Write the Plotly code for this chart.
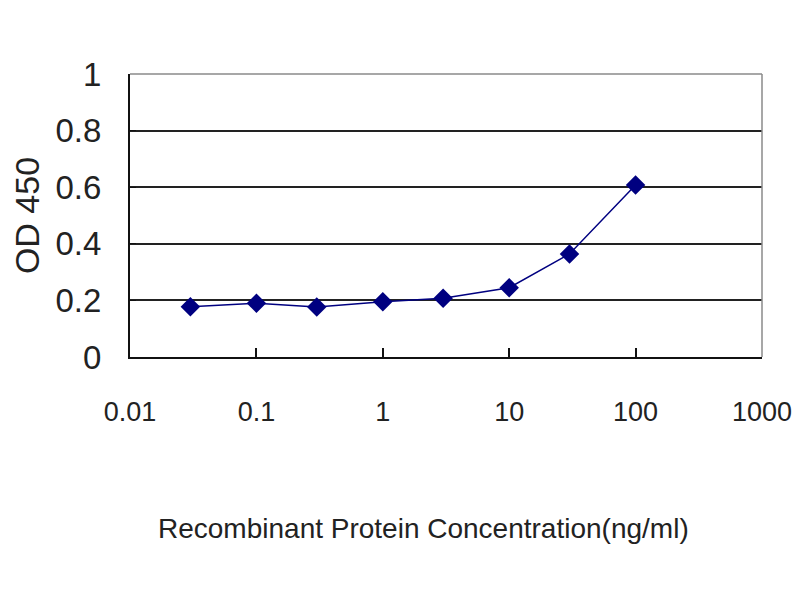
import plotly.graph_objects as go

# concentration (ng/ml) and measured OD 450
concentration = [0.03, 0.1, 0.3, 1, 3, 10, 30, 100]
od450 = [0.178, 0.19, 0.177, 0.195, 0.208, 0.245, 0.364, 0.608]

x_ticks = [0.01, 0.1, 1, 10, 100, 1000]
x_tick_text = ["0.01", "0.1", "1", "10", "100", "1000"]
y_ticks = [0, 0.2, 0.4, 0.6, 0.8, 1]
y_tick_text = ["0", "0.2", "0.4", "0.6", "0.8", "1"]

font_family = "Liberation Sans, Arial, sans-serif"

fig = go.Figure(go.Scatter(
    x=concentration,
    y=od450,
    mode="lines+markers",
    line=dict(color="#000080", width=1.5),
    marker=dict(symbol="diamond", size=15, color="#000080"),
    showlegend=False,
))

fig.update_xaxes(
    type="log",
    range=[-2.0005, 3.0005],
    tickvals=x_ticks,
    ticktext=x_tick_text,
    ticks="inside",
    ticklen=9,
    tickwidth=2,
    tickcolor="#111",
    showline=True,
    linecolor="#111",
    linewidth=2,
    showgrid=False,
    zeroline=False,
    automargin=False,
    ticklabeloverflow="allow",
    tickfont=dict(family=font_family, size=27, color="#222"),
    ticklabelstandoff=30,
)

fig.update_yaxes(
    range=[0, 1],
    tickvals=y_ticks,
    ticktext=y_tick_text,
    ticks="inside",
    ticklen=6,
    tickcolor="#111",
    showline=True,
    linecolor="#111",
    linewidth=2,
    showgrid=True,
    gridcolor="#222",
    gridwidth=2,
    zeroline=False,
    automargin=False,
    tickfont=dict(family=font_family, size=33, color="#222"),
    ticklabelstandoff=20,
    title=dict(
        text="OD 450",
        font=dict(family=font_family, size=34, color="#222"),
        standoff=30,
    ),
)

# light frame on top and right, as in the original
fig.add_shape(type="line", xref="paper", yref="paper", x0=0, x1=1, y0=1, y1=1,
              line=dict(color="#8a8a8a", width=1.5))
fig.add_shape(type="line", xref="paper", yref="paper", x0=1, x1=1, y0=0, y1=1,
              line=dict(color="#8a8a8a", width=1.5))

fig.add_annotation(
    text="Recombinant Protein Concentration(ng/ml)",
    xref="paper", yref="paper", x=0.464, y=-0.605,
    xanchor="center", yanchor="middle", showarrow=False,
    font=dict(family=font_family, size=28, color="#222"),
)

fig.update_layout(
    width=784,
    height=576,
    margin=dict(l=122, r=30, t=66, b=227),
    plot_bgcolor="white",
    paper_bgcolor="white",
)

fig.write_html("out.html")
